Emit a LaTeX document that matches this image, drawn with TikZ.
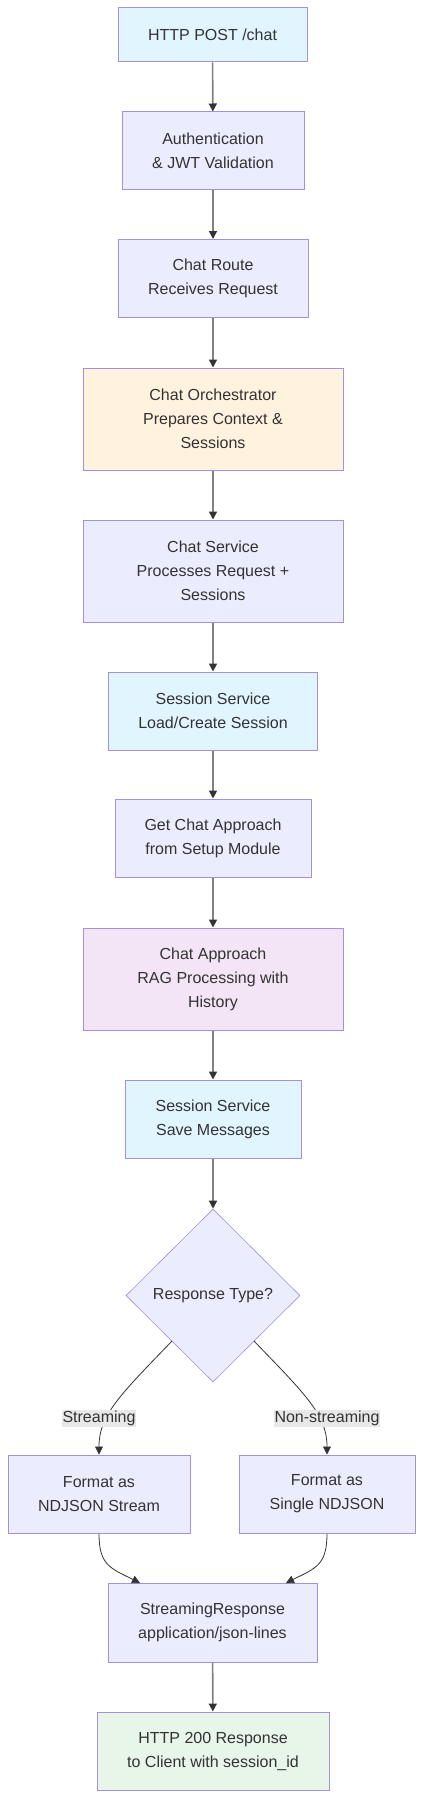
\documentclass[tikz,border=0pt]{standalone}
\usepackage{fontspec}
\setmainfont{Liberation Sans}
\usetikzlibrary{arrows.meta,shapes.geometric}
\definecolor{pbord}{HTML}{A590DE}
\definecolor{cdef}{HTML}{ECECFF}
\definecolor{cblue}{HTML}{E1F5FE}
\definecolor{corange}{HTML}{FFF3E0}
\definecolor{cpurple}{HTML}{F3E5F5}
\definecolor{cgreen}{HTML}{E8F5E9}
\definecolor{txt}{HTML}{333333}
\definecolor{lblbg}{HTML}{E8E8E8}
\tikzset{
  box/.style={draw=pbord, line width=1pt, text=txt, align=center, inner sep=0pt,
    font=\fontsize{16}{24}\selectfont},
  vedge/.style={draw=black!50, line width=1.6pt, -{Triangle[length=8pt,width=8pt,color=txt]}},
  cedge/.style={draw=txt, line width=0.8pt, -{Triangle[length=8pt,width=8pt,color=txt]}},
  lbl/.style={fill=lblbg, text=txt, inner sep=1pt, font=\fontsize{16}{20}\selectfont}
}
\begin{document}
\begin{tikzpicture}[x=1pt,y=-1pt]
\useasboundingbox (0,0) rectangle (423,1798);
% nodes: minimum size from measured boxes
\node[box, fill=cblue, minimum width=189pt, minimum height=54pt] (n1) at (212.5,35) {HTTP POST /chat};
\node[box, fill=cdef, minimum width=182pt, minimum height=78pt] (n2) at (213,151) {Authentication\\\& JWT Validation};
\node[box, fill=cdef, minimum width=190pt, minimum height=78pt] (n3) at (213,278.5) {Chat Route\\Receives Request};
\node[box, fill=corange, minimum width=260pt, minimum height=102pt] (n4) at (213,419) {Chat Orchestrator\\Prepares Context \&\\Sessions};
\node[box, fill=cdef, minimum width=260pt, minimum height=102pt] (n5) at (213,571) {Chat Service\\Processes Request +\\Sessions};
\node[box, fill=cblue, minimum width=209pt, minimum height=78pt] (n6) at (213,711) {Session Service\\Load/Create Session};
\node[box, fill=cdef, minimum width=196pt, minimum height=78pt] (n7) at (213,838) {Get Chat Approach\\from Setup Module};
\node[box, fill=cpurple, minimum width=260pt, minimum height=102pt] (n8) at (213,979) {Chat Approach\\RAG Processing with\\History};
\node[box, fill=cblue, minimum width=176pt, minimum height=78pt] (n9) at (213,1119) {Session Service\\Save Messages};
\node[box, fill=cdef, diamond, line width=0.6pt, minimum width=174pt, minimum height=173pt, aspect=1] (d) at (213,1295.5) {Response Type?};
\node[box, fill=cdef, minimum width=182pt, minimum height=78pt] (fl) at (99,1494) {Format as\\NDJSON Stream};
\node[box, fill=cdef, minimum width=176pt, minimum height=78pt] (fr) at (327,1494) {Format as\\Single NDJSON};
\node[box, fill=cdef, minimum width=209pt, minimum height=79pt] (sr) at (212.5,1622.5) {StreamingResponse\\application/json-lines};
\node[box, fill=cgreen, minimum width=232pt, minimum height=78pt] (h2) at (213,1751) {HTTP 200 Response\\to Client with session\_id};
% edges
\draw[vedge] (n1) -- (n2);
\draw[vedge] (n2) -- (n3);
\draw[vedge] (n3) -- (n4);
\draw[vedge] (n4) -- (n5);
\draw[vedge] (n5) -- (n6);
\draw[vedge] (n6) -- (n7);
\draw[vedge] (n7) -- (n8);
\draw[vedge] (n8) -- (n9);
\draw[vedge] (n9) -- (d.north);
\coordinate (dl) at (172,1341);
\coordinate (dr) at (254,1341);
\draw[cedge] (dl) .. controls (120,1395) and (99,1415) .. (fl.north);
\draw[cedge] (dr) .. controls (306,1395) and (327,1415) .. (fr.north);
\node[lbl] (ls) at (99,1418.5) {Streaming};
\node[lbl] (lr) at (327,1418.5) {Non-streaming};
\coordinate (sl) at (140,1583);
\coordinate (srr) at (286,1583);
\draw[cedge] (fl.south) .. controls (99,1565) and (110,1568) .. (sl);
\draw[cedge] (fr.south) .. controls (327,1565) and (316,1568) .. (srr);
\draw[vedge] (sr) -- (h2);
\end{tikzpicture}
\end{document}
